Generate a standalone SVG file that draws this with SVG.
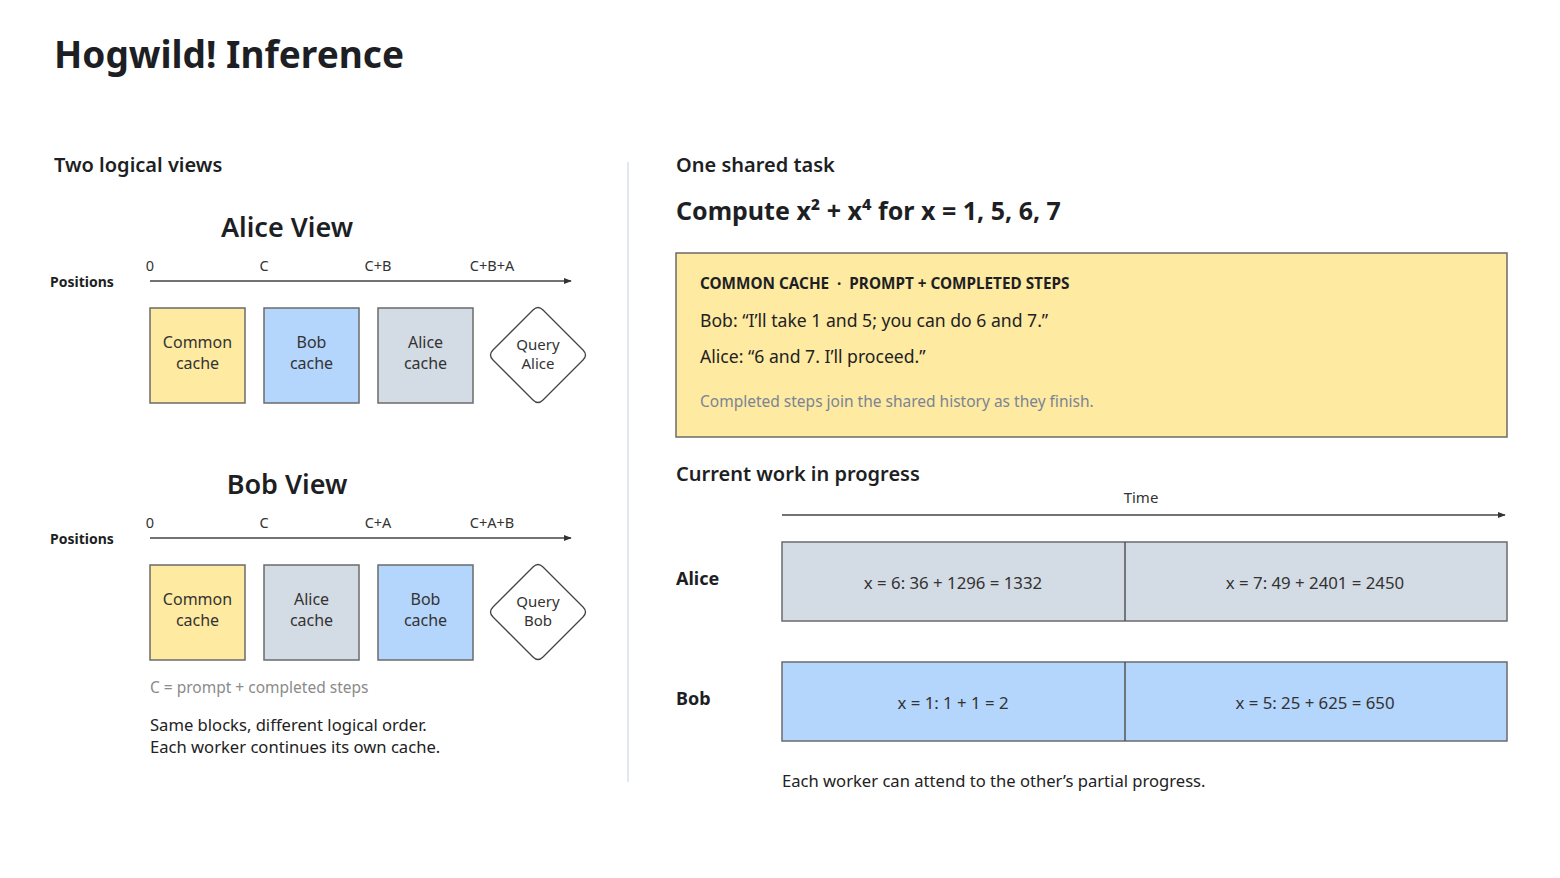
<svg xmlns="http://www.w3.org/2000/svg" width="1560" height="878" viewBox="0 0 1560 878">
<defs>
<marker id="arr" viewBox="0 0 10 10" refX="9" refY="5" markerWidth="8" markerHeight="8" markerUnits="userSpaceOnUse" orient="auto">
<path d="M0,1 L10,5 L0,9 z" fill="#333"/>
</marker>
<style>
text{font-family:"Noto Sans","Open Sans","Liberation Sans",sans-serif;fill:#1d1f24}
.title{font-size:37px;font-weight:700}
.h2{font-size:20px;font-weight:600}
.view{font-size:27px;font-weight:600;text-anchor:middle}
.pos{font-size:14px;font-weight:700}
.tick{font-size:14.5px;text-anchor:middle;fill:#333}
.blk{font-size:16px;text-anchor:middle;fill:#333}
.dia{font-size:15px;text-anchor:middle;fill:#333}
.axis{stroke:#444;stroke-width:1.3;fill:none}
.box{stroke:#6b6b6b;stroke-width:1.5}
.yel{fill:#feeaa1}
.blu{fill:#b4d5fc}
.gry{fill:#d3dbe4}
.note{font-size:15.5px;fill:#8a8a8a}
.body{font-size:16.6px;fill:#222}
.task{font-size:17.6px;fill:#222}
.row{font-size:16.8px;text-anchor:middle;fill:#333}
.who{font-size:18px;font-weight:700}
</style>
</defs>
<rect width="1560" height="878" fill="#ffffff"/>
<text class="title" x="54" y="68">Hogwild! Inference</text>
<line x1="628" y1="162" x2="628" y2="782" stroke="#e2e7ee" stroke-width="2"/>

<text class="h2" x="54" y="172">Two logical views</text>

<g id="alice-view">
<text class="view" x="287" y="237">Alice View</text>
<text class="pos" x="50" y="287">Positions</text>
<text class="tick" x="150" y="271">0</text>
<text class="tick" x="264" y="271">C</text>
<text class="tick" x="378" y="271">C+B</text>
<text class="tick" x="492" y="271">C+B+A</text>
</g>
<g id="alice-common"><rect class="box yel" x="150" y="308" width="95" height="95"/><text class="blk" x="197.5" y="348">Common</text><text class="blk" x="197.5" y="369">cache</text></g>
<g id="alice-bob"><rect class="box blu" x="264" y="308" width="95" height="95"/><text class="blk" x="311.5" y="348">Bob</text><text class="blk" x="311.5" y="369">cache</text></g>
<g id="alice-alice"><rect class="box gry" x="378" y="308" width="95" height="95"/><text class="blk" x="425.5" y="348">Alice</text><text class="blk" x="425.5" y="369">cache</text></g>
<g id="alice-query"><path d="M533,310 Q538,305 543,310 L583,350 Q588,355 583,360 L543,400 Q538,405 533,400 L493,360 Q488,355 493,350 Z" fill="#fff" stroke="#444" stroke-width="1.3"/><text class="dia" x="538" y="350">Query</text><text class="dia" x="538" y="369">Alice</text></g>

<g id="bob-view">
<text class="view" x="287" y="494">Bob View</text>
<text class="pos" x="50" y="544">Positions</text>
<text class="tick" x="150" y="528">0</text>
<text class="tick" x="264" y="528">C</text>
<text class="tick" x="378" y="528">C+A</text>
<text class="tick" x="492" y="528">C+A+B</text>
</g>
<g id="bob-common"><rect class="box yel" x="150" y="565" width="95" height="95"/><text class="blk" x="197.5" y="605">Common</text><text class="blk" x="197.5" y="626">cache</text></g>
<g id="bob-alice"><rect class="box gry" x="264" y="565" width="95" height="95"/><text class="blk" x="311.5" y="605">Alice</text><text class="blk" x="311.5" y="626">cache</text></g>
<g id="bob-bob"><rect class="box blu" x="378" y="565" width="95" height="95"/><text class="blk" x="425.5" y="605">Bob</text><text class="blk" x="425.5" y="626">cache</text></g>
<g id="bob-query"><path d="M533,567 Q538,562 543,567 L583,607 Q588,612 583,617 L543,657 Q538,662 533,657 L493,617 Q488,612 493,607 Z" fill="#fff" stroke="#444" stroke-width="1.3"/><text class="dia" x="538" y="607">Query</text><text class="dia" x="538" y="626">Bob</text></g>

<text class="note" x="150" y="693">C = prompt + completed steps</text>
<text class="body" x="150" y="731">Same blocks, different logical order.</text>
<text class="body" x="150" y="753">Each worker continues its own cache.</text>

<text class="h2" x="676" y="172">One shared task</text>
<text x="676" y="220" style="font-size:25px;font-weight:700">Compute x² + x⁴ for x = 1, 5, 6, 7</text>

<g id="common-cache">
<rect class="box yel" x="676" y="253" width="831" height="184"/>
<text x="700" y="289" style="font-size:15.3px;font-weight:700;white-space:pre">COMMON CACHE  ·  PROMPT + COMPLETED STEPS</text>
<text class="task" x="700" y="327">Bob: “I’ll take 1 and 5; you can do 6 and 7.”</text>
<text class="task" x="700" y="363">Alice: “6 and 7. I’ll proceed.”</text>
<text x="700" y="407" style="font-size:15.5px;fill:#7b8494">Completed steps join the shared history as they finish.</text>
</g>

<text class="h2" x="676" y="481">Current work in progress</text>
<text x="1141" y="503" style="font-size:15px;text-anchor:middle;fill:#333">Time</text>

<g id="alice-row">
<text class="who" x="676" y="585">Alice</text>
<rect class="box gry" x="782" y="542" width="725" height="79"/>
<line x1="1125" y1="542" x2="1125" y2="621" stroke="#555" stroke-width="1.5"/>
<text class="row" x="953" y="589">x = 6: 36 + 1296 = 1332</text>
<text class="row" x="1315" y="589">x = 7: 49 + 2401 = 2450</text>
</g>
<g id="bob-row">
<text class="who" x="676" y="705">Bob</text>
<rect class="box blu" x="782" y="662" width="725" height="79"/>
<line x1="1125" y1="662" x2="1125" y2="741" stroke="#555" stroke-width="1.5"/>
<text class="row" x="953" y="709">x = 1: 1 + 1 = 2</text>
<text class="row" x="1315" y="709">x = 5: 25 + 625 = 650</text>
</g>
<text class="body" x="782" y="787">Each worker can attend to the other’s partial progress.</text>

<g id="connectors">
<line class="axis" x1="150" y1="281" x2="571" y2="281" marker-end="url(#arr)"/>
<line class="axis" x1="150" y1="538" x2="571" y2="538" marker-end="url(#arr)"/>
<line class="axis" x1="782" y1="515" x2="1505" y2="515" marker-end="url(#arr)"/>
</g>
</svg>
